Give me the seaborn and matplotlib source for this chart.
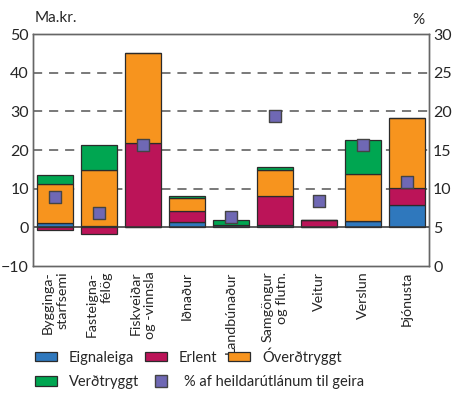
import numpy as np
import seaborn as sns
import matplotlib.pyplot as plt
from matplotlib.patches import Patch
from matplotlib.lines import Line2D

categories = ["Bygginga-\nstarfsemi", "Fasteigna-\nfélög", "Fiskveiðar\nog -vinnsla", "Iðnaður",
              "Landbúnaður", "Samgöngur\nog flutn.", "Veitur", "Verslun", "Þjónusta"]
eignaleiga = [1.1, 0.3, 0.0, 1.4, 0.5, 0.6, 0.0, 1.6, 5.9]
erlent = [-0.7, -1.6, 21.8, 2.9, 0.0, 7.4, 2.0, 0.0, 4.2]
overdtryggt = [10.0, 14.5, 23.4, 3.4, 0.0, 6.9, 0.0, 12.1, 18.3]
verdtryggt = [2.4, 6.5, 0.0, 0.5, 1.4, 0.7, 0.0, 8.9, 0.0]
hlutfall = [8.9, 6.8, 15.7, np.nan, 6.3, 19.4, 8.4, 15.7, 10.9]

series = [("Eignaleiga", eignaleiga, "#2f78bd"),
          ("Erlent", erlent, "#bb1458"),
          ("Óverðtryggt", overdtryggt, "#f7941e"),
          ("Verðtryggt", verdtryggt, "#00a651")]
marker_color = "#6f68b4"
edge = "#2b2b2b"

sns.set_style("white")
plt.rcParams["font.family"] = ["Lato", "DejaVu Sans"]

fig = plt.figure(figsize=(4.54, 4.19), dpi=100)
ax = fig.add_axes([33 / 454, 1 - 266 / 419, 396 / 454, 232 / 419])
x = np.arange(len(categories))

for g in [10, 20, 30, 40]:
    ax.axhline(g, color="#555555", lw=1.1, ls=(0, (6, 4.5)), zorder=0)

pos = np.zeros(len(categories))
neg = np.zeros(len(categories))
for name, vals, col in series:
    v = np.array(vals)
    bottom = np.where(v >= 0, pos, neg)
    ax.bar(x, v, 0.8, bottom=bottom, color=col, edgecolor=edge, linewidth=0.9, zorder=2)
    pos = pos + np.where(v > 0, v, 0)
    neg = neg + np.where(v < 0, v, 0)

ax.axhline(0, color="#333333", lw=1.1, zorder=3)
ax.set_xlim(-0.5, len(categories) - 0.5)
ax.set_ylim(-10, 50)
ax.set_yticks(range(-10, 51, 10))
ax.tick_params(axis="y", length=0, labelsize=11.5, pad=3)
ax.set_xticks(x)
ax.set_xticklabels(categories, rotation=90, fontsize=10.3, va="top", ha="center",
                   multialignment="right", linespacing=1.25)
ax.set_xticks(np.arange(-0.5, len(categories), 1), minor=True)
ax.tick_params(axis="x", which="major", length=0, pad=4)
ax.tick_params(axis="x", which="minor", length=5, width=1, color="#555555", direction="out")

ax2 = ax.twinx()
ax2.set_ylim(0, 30)
ax2.set_yticks(range(0, 31, 5))
ax2.tick_params(axis="y", length=0, labelsize=11.5, pad=3)
sns.scatterplot(x=x, y=hlutfall, ax=ax2, marker="s", s=70, color=marker_color,
                edgecolor="#444444", linewidth=1, zorder=5)

for a in (ax, ax2):
    for sp in a.spines.values():
        sp.set_color("#666666")
        sp.set_linewidth(1)

fig.text(35 / 454, 1 - 18 / 419, "Ma.kr.", fontsize=11, ha="left", va="center")
fig.text(418 / 454, 1 - 20 / 419, "%", fontsize=11, ha="center", va="center")

kw = dict(frameon=False, fontsize=10.5, handlelength=1.5, handleheight=0.65,
          handletextpad=0.85, columnspacing=0.7, loc="center left", borderaxespad=0)
h1 = [Patch(facecolor=c, edgecolor=edge, linewidth=0.9) for _, _, c in series[:3]]
fig.legend(h1, [n for n, _, _ in series[:3]], ncol=3,
           bbox_to_anchor=(29 / 454, 1 - 356 / 419), **kw)
h2 = [Patch(facecolor=series[3][2], edgecolor=edge, linewidth=0.9),
      Line2D([], [], marker="s", ls="", markersize=8, markerfacecolor=marker_color,
             markeredgecolor="#444444")]
fig.legend(h2, ["Verðtryggt", "% af heildarútlánum til geira"], ncol=2,
           bbox_to_anchor=(29 / 454, 1 - 382 / 419), **kw)

fig.savefig("out.png", dpi=100)
